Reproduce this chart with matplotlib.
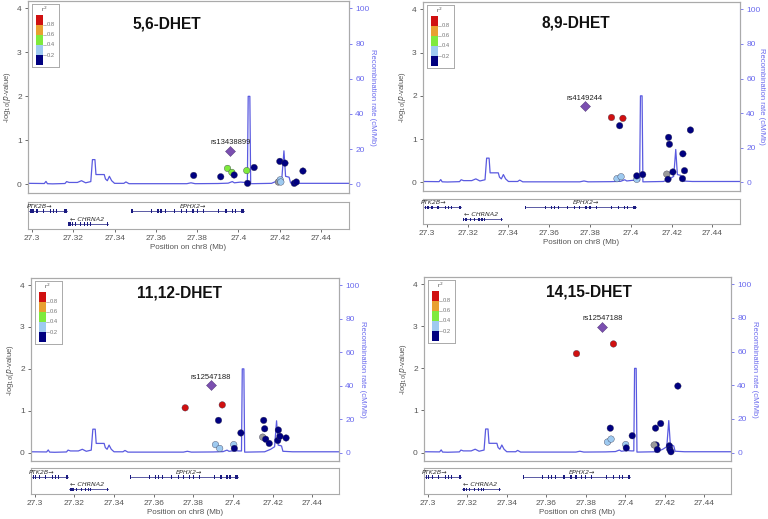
import numpy as np
import matplotlib
matplotlib.use("Agg")
import matplotlib.pyplot as plt
from matplotlib.patches import Rectangle
from matplotlib.ticker import FuncFormatter

plt.rcParams['font.family'] = ['Liberation Sans', 'DejaVu Sans']

# ---------------- data ----------------
titles = ["5,6-DHET", "8,9-DHET", "11,12-DHET", "14,15-DHET"]
lead_names = ["rs13438899", "rs4149244", "rs12547188", "rs12547188"]
lead_pos = [27.3960, 27.3773, 27.3887, 27.3883]
lead_logp = [0.76, 1.76, 1.61, 2.99]

# r2 values (nan = no LD info, grey)
p1_pos = [27.3783, 27.3914, 27.3947, 27.3968, 27.3979, 27.4040, 27.4044, 27.4076,
          27.4200, 27.4225, 27.4193, 27.4202, 27.4205, 27.4270, 27.4280, 27.4312]
p1_logp = [0.20, 0.17, 0.36, 0.27, 0.21, 0.31, 0.02, 0.38,
           0.52, 0.48, 0.05, 0.10, 0.05, 0.02, 0.05, 0.30]
p1_r2 = [0.1, 0.1, 0.5, 0.5, 0.1, 0.5, 0.1, 0.1,
         0.1, 0.1, np.nan, 0.3, 0.3, 0.1, 0.1, 0.1]

p2_pos = [27.3905, 27.3961, 27.3945, 27.3932, 27.3952, 27.4029, 27.4029, 27.4058,
          27.4176, 27.4182, 27.4185, 27.4189, 27.4206, 27.4255, 27.4253, 27.4263, 27.4292]
p2_logp = [1.50, 1.48, 1.31, 0.085, 0.13, 0.07, 0.15, 0.18,
           0.19, 0.07, 1.04, 0.88, 0.24, 0.66, 0.085, 0.27, 1.21]
p2_r2 = [0.9, 0.9, 0.1, 0.3, 0.3, 0.3, 0.1, 0.1,
         np.nan, 0.1, 0.1, 0.1, 0.1, 0.1, 0.1, 0.1, 0.1]

p3_pos = [27.3759, 27.3946, 27.3927, 27.3912, 27.3933, 27.4004, 27.4007, 27.4040,
          27.4155, 27.4160, 27.4150, 27.4165, 27.4183, 27.4229, 27.4226, 27.4237, 27.4268]
p3_logp = [1.07, 1.14, 0.77, 0.19, 0.10, 0.19, 0.10, 0.47,
           0.77, 0.57, 0.37, 0.32, 0.22, 0.54, 0.29, 0.39, 0.35]
p3_r2 = [0.9, 0.9, 0.1, 0.3, 0.3, 0.3, 0.1, 0.1,
         0.1, 0.1, np.nan, 0.1, 0.1, 0.1, 0.1, 0.1, 0.1]

p4_pos = [27.3753, 27.3940, 27.3924, 27.3910, 27.3928, 27.4002, 27.4005, 27.4035,
          27.4153, 27.4156, 27.4146, 27.4162, 27.4179, 27.4223, 27.4225, 27.4231, 27.4266]
p4_logp = [2.35, 2.58, 0.58, 0.25, 0.32, 0.19, 0.11, 0.40,
           0.58, 0.18, 0.18, 0.07, 0.69, 0.16, 0.08, 0.02, 1.58]
p4_r2 = [0.9, 0.9, 0.1, 0.3, 0.3, 0.3, 0.1, 0.1,
         0.1, 0.1, np.nan, 0.1, 0.1, 0.1, 0.1, 0.1, 0.1]

snp_pos = [p1_pos, p2_pos, p3_pos, p4_pos]
snp_logp = [p1_logp, p2_logp, p3_logp, p4_logp]
snp_r2 = [p1_r2, p2_r2, p3_r2, p4_r2]

# recombination rate (cM/Mb)
recomb_pos = [27.2980, 27.3060, 27.3068, 27.3075, 27.3100, 27.3160, 27.3168, 27.3180,
              27.3220, 27.3240, 27.3260, 27.3285, 27.3293, 27.3305, 27.3310, 27.3350,
              27.3356, 27.3365, 27.3375, 27.3386, 27.3400, 27.3445, 27.3455, 27.3470,
              27.3750, 27.3770, 27.3790, 27.3900, 27.3950, 27.3970, 27.3980, 27.4010,
              27.4030, 27.4043, 27.4047, 27.4055, 27.4059, 27.4065, 27.4160, 27.4190,
              27.4210, 27.4220, 27.4228, 27.4245, 27.4252, 27.4300, 27.4540]
recomb_rate = [0.5, 0.4, 1.6, 0.3, 0.2, 0.4, 1.5, 1.0,
               1.0, 2.0, 0.8, 1.5, 14.0, 14.0, 5.5, 5.5,
               3.0, 2.0, 4.5, 2.0, 0.5, 0.5, 1.3, 0.3,
               0.3, 0.8, 0.3, 0.4, 0.6, 1.5, 0.8, 1.2,
               1.0, 1.0, 50.0, 50.0, 0.3, 0.3, 0.5, 2.0,
               3.5, 19.0, 4.5, 4.0, 0.8, 0.5, 0.5]

# genes
gene_names = ["PTK2B", "EPHX2", "CHRNA2"]
gene_start = [27.2985, 27.3485, 27.3175]
gene_end = [27.3168, 27.4025, 27.3368]
gene_row = [0, 0, 1]
gene_dir = [1, 1, -1]
gene_label_x = [27.3035, 27.3780, 27.3265]
gene_exons = [
    [27.2995, 27.3005, 27.3025, 27.3055, 27.3090, 27.3105, 27.3120, 27.3160, 27.3165],
    [27.3485, 27.3580, 27.3610, 27.3625, 27.3645, 27.3690, 27.3725, 27.3750,
     27.3780, 27.3800, 27.3830, 27.3905, 27.3940, 27.3970, 27.3985, 27.4015, 27.4022],
    [27.3180, 27.3188, 27.3195, 27.3212, 27.3235, 27.3255, 27.3270, 27.3282, 27.3365],
]

xticks = [27.30, 27.32, 27.34, 27.36, 27.38, 27.40, 27.42, 27.44]
yticks = [0, 1, 2, 3, 4]
rticks = [0, 20, 40, 60, 80, 100]
legend_breaks = [0.2, 0.4, 0.6, 0.8]

# ---------------- style ----------------
LD_COLORS = ["#000080", "#9ECAF0", "#7FEA3C", "#E8A030", "#D01010"]
GREY = "#9A9A9A"
LEAD = "#7B4FB0"
RCOL = "#5A5AE0"
RTXT = "#6A6AEE"
SPINE = "#AAAAAA"
TXT = "#555555"

W, H = 768, 519
fig = plt.figure(figsize=(W / 100, H / 100), dpi=100)


def px_axes(l, t, r, b):
    return fig.add_axes([l / W, 1 - b / H, (r - l) / W, (b - t) / H])


def ld_color(r):
    if np.isnan(r):
        return GREY
    idx = min(int(r / 0.2), 4)
    return LD_COLORS[idx]


panels = [
    dict(main=(28, 1, 349, 193), gene=(28, 202, 349, 229), title=(167, 24), rpad=5),
    dict(main=(423, 2, 740, 191), gene=(423, 199, 740, 224), title=(576, 23), rpad=3),
    dict(main=(31, 278, 339, 461), gene=(31, 468, 339, 494), title=(180, 293), rpad=5),
    dict(main=(424, 277, 731, 461), gene=(424, 468, 731, 494), title=(589, 292), rpad=5),
]

XL = (27.2981, 27.4535)
YL = (-0.2, 4.17)

for i, p in enumerate(panels):
    l, t, r, b = p["main"]
    ax = px_axes(l, t, r, b)
    ax.set_xlim(XL)
    ax.set_ylim(YL)
    for s in ax.spines.values():
        s.set_color(SPINE)
        s.set_linewidth(0.8)
    ax.set_xticks([])
    ax.set_yticks(yticks)
    ax.tick_params(axis="y", labelsize=6, colors=TXT, length=2.5, width=0.6, pad=2)
    ax.set_ylabel(r"-log$_{10}$($p$-value)", fontsize=5.5, color=TXT, labelpad=3)

    # recombination
    ax2 = ax.twinx()
    ax2.set_ylim(YL[0] * 25, YL[1] * 25)
    ax2.plot(recomb_pos, recomb_rate, color=RCOL, lw=0.9, zorder=1)
    ax2.set_yticks(rticks)
    ax2.tick_params(axis="y", labelsize=6, colors=RTXT, length=2.5, width=0.6, pad=2)
    ax2.set_ylabel("Recombination rate (cM/Mb)", fontsize=5.5, color=RTXT,
                   rotation=270, labelpad=p["rpad"])
    for s in ax2.spines.values():
        s.set_color(SPINE)
        s.set_linewidth(0.8)
    ax2.spines["right"].set_color("#9C9CE8")
    ax.set_zorder(ax2.get_zorder() + 1)
    ax.patch.set_visible(False)

    # SNPs
    cols = [ld_color(v) for v in snp_r2[i]]
    ax.scatter(snp_pos[i], snp_logp[i], s=22, c=cols, edgecolors="#30304a",
               linewidths=0.25, zorder=3)
    ax.scatter([lead_pos[i]], [lead_logp[i]], s=26, marker="D", c=LEAD,
               edgecolors="#4a3070", linewidths=0.3, zorder=4)
    ax.text(lead_pos[i], lead_logp[i] + 0.1, lead_names[i], fontsize=5.5,
            ha="center", va="bottom", color="#222222", zorder=5)

    # title
    tx, ty = p["title"]
    fig.text(tx / W, 1 - ty / H, titles[i], fontsize=11.2, fontweight="bold",
             ha="center", va="center", color="#111111")

    # legend box
    lg = px_axes(l + 4, t + 3, l + 31, t + 66)
    lg.set_xlim(0, 1)
    lg.set_ylim(0, 1)
    lg.set_xticks([])
    lg.set_yticks([])
    for s in lg.spines.values():
        s.set_color(SPINE)
        s.set_linewidth(0.7)
    seg = 0.16
    y0 = 0.03
    for k, c in enumerate(LD_COLORS):
        lg.add_patch(Rectangle((0.14, y0 + k * seg), 0.26, seg, facecolor=c,
                               edgecolor="none"))
    for k, v in enumerate(legend_breaks):
        yy = y0 + (k + 1) * seg
        lg.plot([0.40, 0.50], [yy, yy], color="#888888", lw=0.4)
        lg.text(0.54, yy, "%.1f" % v, fontsize=4.2, color="#777777", va="center")
    lg.text(0.46, 0.915, r"r$^2$", fontsize=4.5, color="#555555", ha="center",
            va="center")

    # gene track
    gl, gt, gr, gb = p["gene"]
    ga = px_axes(gl, gt, gr, gb)
    ga.set_xlim(XL)
    ga.set_ylim(0, 1)
    for s in ga.spines.values():
        s.set_color(SPINE)
        s.set_linewidth(0.8)
    ga.set_yticks([])
    ga.set_xticks(xticks)
    ga.xaxis.set_major_formatter(FuncFormatter(lambda v, _: "%g" % round(v, 2)))
    ga.tick_params(axis="x", labelsize=6, colors=TXT, length=2.5, width=0.6, pad=2)
    ga.set_xlabel("Position on chr8 (Mb)", fontsize=5.8, color=TXT, labelpad=1.5)
    row_line = [0.66, 0.18]
    row_lab = [0.84, 0.37]
    for g in range(len(gene_names)):
        yl = row_line[gene_row[g]]
        ga.plot([gene_start[g], gene_end[g]], [yl, yl], color="#1a1a80", lw=0.5)
        for ex in gene_exons[g]:
            ga.add_patch(Rectangle((ex - 0.0003, yl - 0.07), 0.0006, 0.14,
                                   facecolor="#1a1a80", edgecolor="none"))
        if gene_dir[g] > 0:
            lab = gene_names[g] + "\u2192"
        else:
            lab = "\u2190 " + gene_names[g]
        ga.text(gene_label_x[g], row_lab[gene_row[g]], lab, fontsize=4.6,
                style="italic", ha="center", va="center", color="#333333",
                family=["DejaVu Sans"])

fig.savefig("out.png", dpi=100)
